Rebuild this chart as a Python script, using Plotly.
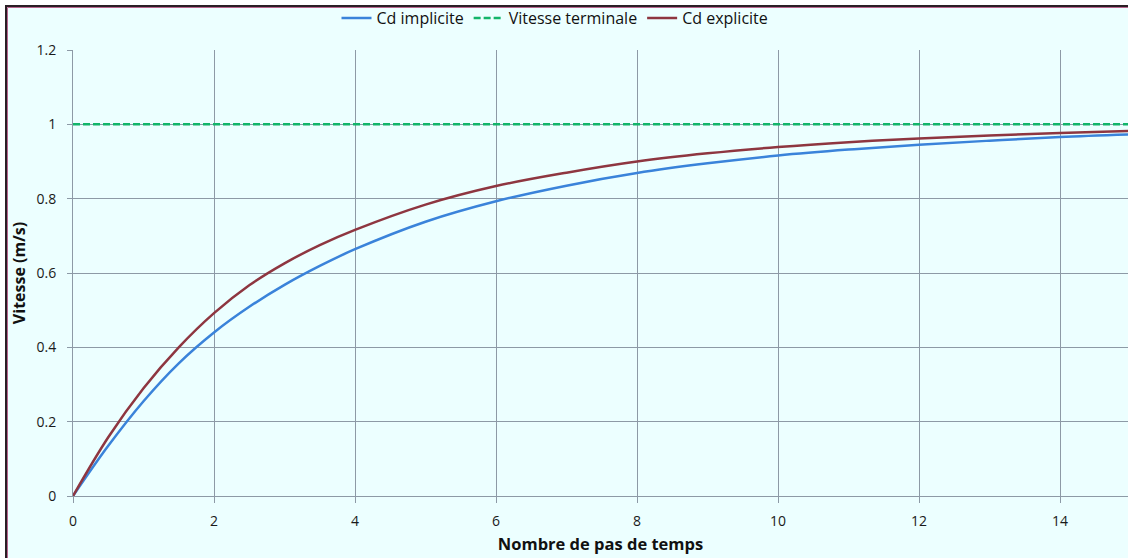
import plotly.graph_objects as go

# Data
steps = [0, 0.5, 1, 1.5, 2, 2.5, 3, 3.5, 4, 5, 6, 7, 8, 9, 10, 11, 12, 13, 14, 15]
cd_implicite = [0, 0.135, 0.255, 0.357, 0.440, 0.509, 0.568, 0.619, 0.664, 0.738, 0.793,
                0.835, 0.869, 0.895, 0.916, 0.932, 0.945, 0.956, 0.966, 0.973]
cd_explicite = [0, 0.158, 0.290, 0.400, 0.492, 0.567, 0.626, 0.675, 0.716, 0.784, 0.834,
                0.870, 0.900, 0.922, 0.939, 0.952, 0.962, 0.970, 0.977, 0.982]
vitesse_terminale = [1, 1, 1, 1, 1, 1, 1, 1, 1, 1, 1, 1, 1, 1, 1, 1, 1, 1, 1, 1]

x_ticks = [0, 2, 4, 6, 8, 10, 12, 14]
y_ticks = [0, 0.2, 0.4, 0.6, 0.8, 1, 1.2]

BG = "#ECFFFF"
GRID = "#8D9AA6"
FONT = "Open Sans"

fig = go.Figure()
fig.add_trace(go.Scatter(x=steps, y=cd_implicite, mode="lines", name="Cd implicite",
                         line=dict(color="#3A83DA", width=2.5, shape="spline")))
fig.add_trace(go.Scatter(x=steps, y=vitesse_terminale, mode="lines", name="Vitesse terminale",
                         line=dict(color="#12B56A", width=2.5, dash="7px,3px")))
fig.add_trace(go.Scatter(x=steps, y=cd_explicite, mode="lines", name="Cd explicite",
                         line=dict(color="#8E3640", width=2.5, shape="spline")))

L, R, T, B = 73, 0, 50, 62
W, H = 1128, 558
pw, ph = W - L - R, H - T - B


def px_x(p):
    return (p - L) / pw


def px_y(p):
    return (H - B - p) / ph


fig.add_shape(type="rect", xref="paper", yref="paper", layer="below",
              x0=px_x(6), x1=px_x(1145), y0=px_y(6), y1=px_y(575),
              fillcolor=BG, line=dict(color="#2A1E24", width=2))
fig.add_shape(type="rect", xref="paper", yref="paper", layer="below",
              x0=px_x(7.5), x1=px_x(1145), y0=px_y(7.5), y1=px_y(575),
              fillcolor="rgba(0,0,0,0)", line=dict(color="#B8668F", width=1))

fig.update_layout(
    width=W, height=H,
    margin=dict(l=L, r=R, t=T, b=B),
    paper_bgcolor="white",
    plot_bgcolor="rgba(0,0,0,0)",
    font=dict(family=FONT, size=14, color="#1A1A1A"),
    showlegend=True,
    legend=dict(orientation="h", x=px_x(555), xanchor="center", y=px_y(18), yanchor="middle",
                font=dict(size=16, color="#111111"), bgcolor="rgba(0,0,0,0)",
                itemwidth=30, tracegroupgap=0),
)
fig.update_xaxes(range=[0, pw / 70.5], tickvals=x_ticks, showgrid=True, gridcolor=GRID, gridwidth=1,
                 showline=True, linecolor=GRID, linewidth=1, zeroline=False,
                 ticks="outside", ticklen=6, tickcolor=GRID, ticklabelstandoff=6,
                 title=dict(text="<b>Nombre de pas de temps</b>", font=dict(size=16.5, color="#111111"),
                            standoff=9))
fig.update_yaxes(range=[0, 1.2], tickvals=y_ticks, showgrid=True, gridcolor=GRID, gridwidth=1,
                 showline=True, linecolor=GRID, linewidth=1, zeroline=False,
                 ticks="outside", ticklen=5, tickcolor=GRID, ticklabelstandoff=8,
                 title=dict(text="<b>Vitesse (m/s)</b>", font=dict(size=16, color="#111111"),
                            standoff=6))

fig.write_html("out.html", config={"displayModeBar": False},
               post_script="document.body.style.margin='0';document.body.style.overflow='hidden';")
